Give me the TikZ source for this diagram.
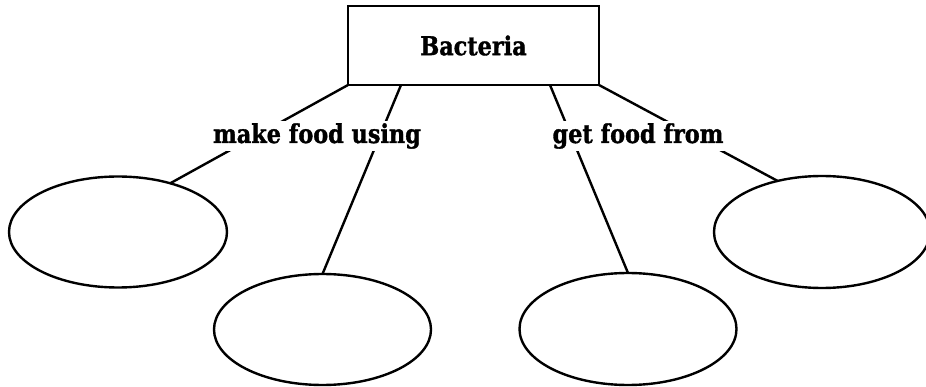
\documentclass[tikz,border=0pt]{standalone}
\usepackage{fontspec}
\setmainfont{DejaVu Serif}[FakeStretch=0.86,BoldFeatures={FakeBold=1.3}]
\usetikzlibrary{shapes.geometric}
\begin{document}
\begin{tikzpicture}[x=1pt,y=-1pt,
  ink/.style={line width=2.4pt,black},
  topic/.style={ink,draw,rectangle,minimum width=251pt,minimum height=79pt,
    inner sep=0pt,outer sep=0pt,font=\fontsize{26}{30}\selectfont\bfseries},
  blank/.style={ink,draw,ellipse,inner sep=0pt,outer sep=0pt},
  linklabel/.style={fill=white,inner sep=2pt,anchor=base,
    font=\fontsize{26}{30}\selectfont\bfseries},
  link/.style={ink}]
\useasboundingbox (0,0) rectangle (926,387);
% central topic
\node[topic] (bact) at (473.5,45.5) {Bacteria};
% empty answer ellipses
\node[blank,minimum width=218pt,minimum height=111pt] (e1) at (118,232) {};
\node[blank,minimum width=217pt,minimum height=111pt] (e2) at (322.5,329.5) {};
\node[blank,minimum width=217pt,minimum height=112pt] (e3) at (628,329) {};
\node[blank,minimum width=216pt,minimum height=112pt] (e4) at (822,232) {};
% connectors
\draw[link] (bact.south west) -- (e1.43);
\draw[link] ([xshift=53pt]bact.south west) -- (e2.north);
\draw[link] ([xshift=-49pt]bact.south east) -- (e3.north);
\draw[link] (bact.south east) -- (e4.131);
% labels over the connectors
\node[linklabel] (l1) at (317,143) {make food using};
\node[linklabel] (l2) at (638,143) {get food from};
\end{tikzpicture}
\end{document}
